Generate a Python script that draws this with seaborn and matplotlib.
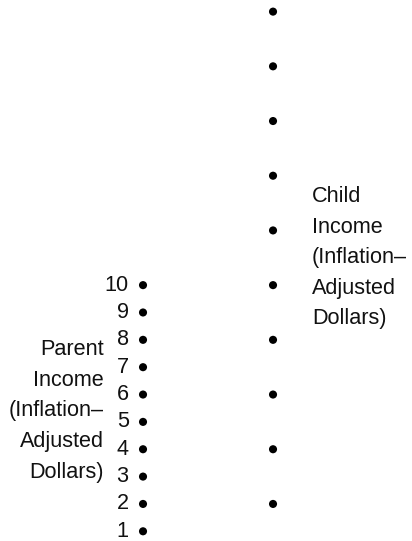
import pandas as pd
import seaborn as sns
import matplotlib.pyplot as plt

# income levels
parent_income = [1, 2, 3, 4, 5, 6, 7, 8, 9, 10]
child_income = [2, 4, 6, 8, 10, 12, 14, 16, 18, 20]
parent_ticks = ["1", "2", "3", "4", "5", "6", "7", "8", "9", "10"]
parent_label = "Parent\nIncome\n(Inflation\u2013\nAdjusted\nDollars)"
child_label = "Child\nIncome\n(Inflation\u2013\nAdjusted\nDollars)"

sns.set_style("white")
plt.rcParams['font.family'] = ['Liberation Sans', 'DejaVu Sans']

df = pd.DataFrame({
    "col": [0] * len(parent_income) + [1] * len(child_income),
    "income": parent_income + child_income,
})

fig = plt.figure(figsize=(4.12, 5.41), dpi=100)
ax = fig.add_axes([0, 0, 1, 1])
sns.scatterplot(data=df, x="col", y="income", color="black", s=34,
                edgecolor="none", ax=ax, legend=False)
ax.set_xlim(-1.1, 2.069)
ax.set_ylim(0.645, 20.425)
ax.axis("off")

fs = 15.6
for v, t in zip(parent_income, parent_ticks):
    ax.text(-0.11, v, t, ha="right", va="center", fontsize=fs, color="#111111")

ax.text(-0.3, 5.4, parent_label, ha="right", va="center", multialignment="right",
        fontsize=fs, color="#111111", linespacing=1.6)
ax.text(1.3, 11, child_label, ha="left", va="center", multialignment="left",
        fontsize=fs, color="#111111", linespacing=1.6)

fig.savefig("out.png", dpi=100)
